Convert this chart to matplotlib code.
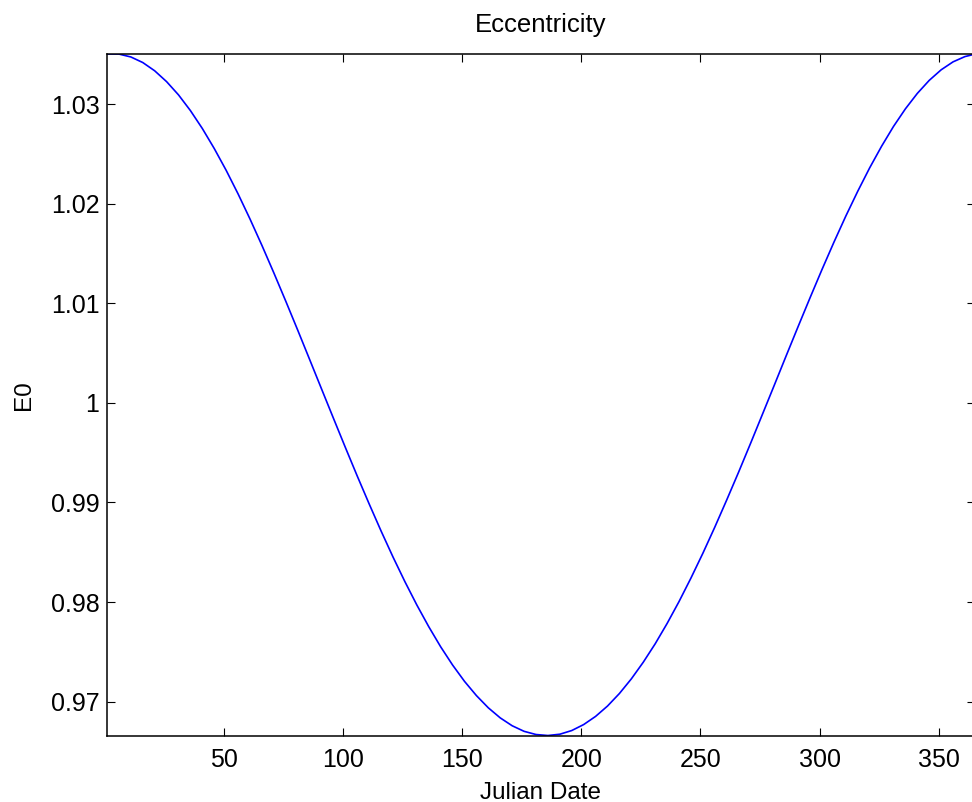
import matplotlib
matplotlib.use("Agg")
import matplotlib.pyplot as plt

# Julian day and eccentricity correction factor (every 5 days)
days = [1, 6, 11, 16, 21, 26, 31, 36, 41, 46, 51, 56, 61, 66, 71, 76, 81, 86,
        91, 96, 101, 106, 111, 116, 121, 126, 131, 136, 141, 146, 151, 156, 161,
        166, 171, 176, 181, 186, 191, 196, 201, 206, 211, 216, 221, 226, 231,
        236, 241, 246, 251, 256, 261, 266, 271, 276, 281, 286, 291, 296, 301,
        306, 311, 316, 321, 326, 331, 336, 341, 346, 351, 356, 361, 365]
e0 = [1.03505, 1.03504, 1.03475, 1.03419, 1.03336, 1.03227, 1.03094, 1.02936,
      1.02756, 1.02555, 1.02336, 1.02099, 1.01847, 1.01582, 1.01306, 1.01022,
      1.00732, 1.00437, 1.00141, 0.99846, 0.99553, 0.99265, 0.98985, 0.98713,
      0.98452, 0.98204, 0.97970, 0.97752, 0.97550, 0.97367, 0.97203, 0.97060,
      0.96937, 0.96836, 0.96757, 0.96701, 0.96669, 0.96659, 0.96672, 0.96709,
      0.96769, 0.96851, 0.96955, 0.97081, 0.97228, 0.97395, 0.97580, 0.97784,
      0.98004, 0.98240, 0.98489, 0.98751, 0.99024, 0.99304, 0.99592, 0.99885,
      1.00179, 1.00475, 1.00768, 1.01057, 1.01340, 1.01614, 1.01877, 1.02126,
      1.02361, 1.02578, 1.02777, 1.02954, 1.03109, 1.03240, 1.03346, 1.03426,
      1.03479, 1.03502]

xticks = [50, 100, 150, 200, 250, 300, 350]
yticks = [0.97, 0.98, 0.99, 1.00, 1.01, 1.02, 1.03]
ytick_labels = ["0.97", "0.98", "0.99", "1", "1.01", "1.02", "1.03"]

plt.rcParams.update({
    "font.family": ["Liberation Sans", "DejaVu Sans"],
    "font.size": 17.5,
    "xtick.labelsize": 18,
    "ytick.labelsize": 18,
    "axes.linewidth": 1.1,
    "xtick.direction": "in",
    "ytick.direction": "in",
    "xtick.major.size": 6,
    "ytick.major.size": 6,
    "xtick.major.width": 0.8,
    "ytick.major.width": 0.8,
    "xtick.top": True,
    "ytick.right": True,
})

fig = plt.figure(figsize=(9.72, 8.02), dpi=100)
ax = fig.add_axes([0.1101, 0.0829, 0.8925, 0.8498])
ax.plot(days, e0, color="#0000ff", linewidth=1.2)

ax.set_xlim(min(days), max(days))
ax.set_ylim(min(e0), max(e0))
ax.set_xticks(xticks)
ax.set_yticks(yticks)
ax.set_yticklabels(ytick_labels)
ax.tick_params(axis="x", pad=9)
ax.tick_params(axis="y", pad=5.5)

ax.set_title("Eccentricity", fontsize=18.5, pad=16)
ax.set_xlabel("Julian Date", labelpad=7)
ax.set_ylabel("E0", labelpad=11)

fig.savefig("out.png", dpi=100)
